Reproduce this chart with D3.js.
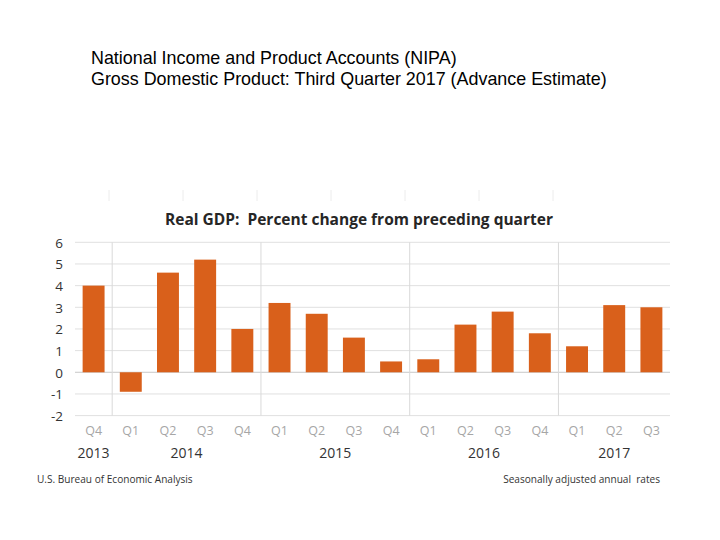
<!DOCTYPE html>
<html><head><meta charset="utf-8">
<script src="https://cdn.jsdelivr.net/npm/d3@7"></script>
<style>body{margin:0;background:#fff}svg{display:block}text{white-space:pre}</style>
</head><body>
<svg id="c" width="720" height="540"></svg>
<script>
const quarters = ["Q4","Q1","Q2","Q3","Q4","Q1","Q2","Q3","Q4","Q1","Q2","Q3","Q4","Q1","Q2","Q3"];
const years = ["2013","2014","2014","2014","2014","2015","2015","2015","2015","2016","2016","2016","2016","2017","2017","2017"];
const values = [4.0,-0.9,4.6,5.2,2.0,3.2,2.7,1.6,0.5,0.6,2.2,2.8,1.8,1.2,3.1,3.0];
const yTicks = [-2,-1,0,1,2,3,4,5,6];
const headerLines = ["National Income and Product Accounts (NIPA)","Gross Domestic Product: Third Quarter 2017 (Advance Estimate)"];
const chartTitle = "Real GDP:  Percent change from preceding quarter";
const sourceNote = "U.S. Bureau of Economic Analysis";
const rateNote = "Seasonally adjusted annual  rates";

const svg = d3.select("#c");
const pL = 75, pR = 670, pT = 242.3, pB = 415.6;
const idx = d3.range(values.length);
const x = d3.scaleBand().domain(idx).range([pL, pR]).paddingInner(0.41).paddingOuter(0.205);
const xs = d3.scaleBand().domain(idx).range([pL, pR]);
const y = d3.scaleLinear().domain([-2, 6]).range([pB, pT]);

function fitWidth(sel, w){
  const n = sel.node(); const fs = parseFloat(sel.attr("font-size"));
  const cur = n.getComputedTextLength();
  if (cur > 0) sel.attr("font-size", fs * w / cur);
}

// header
svg.selectAll("text.hdr").data(headerLines).join("text").attr("class","hdr")
  .attr("x", 91).attr("y", (d,i)=>63.5 + i*21.5)
  .attr("font-family","Liberation Sans, Arial, sans-serif").attr("font-size",17.9).attr("fill","#000")
  .text(d=>d);

// faint top ticks
const faint = svg.append("g");
d3.range(7).forEach(i=>{
  const xx = 109 + i*74;
  faint.append("line").attr("x1",xx).attr("x2",xx).attr("y1",190).attr("y2",201).attr("stroke","#ececec").attr("stroke-width",1);
});

// title
const t = svg.append("text").attr("x", 359).attr("y", 225).attr("text-anchor","middle")
  .attr("font-family","Open Sans, sans-serif").attr("font-weight","bold").attr("font-size",16.6).attr("fill","#262626")
  .text(chartTitle);
fitWidth(t, 388);

// gridlines
svg.append("g").selectAll("line").data(yTicks).join("line")
  .attr("x1",pL).attr("x2",pR).attr("y1",d=>y(d)).attr("y2",d=>y(d))
  .attr("stroke",d=>d===0?"#c8c8c8":"#e0e0e0").attr("stroke-width",1);

// year separators
const sepIdx = idx.filter(i=>i>0 && years[i]!==years[i-1]);
svg.append("g").selectAll("line").data(sepIdx).join("line")
  .attr("x1",d=>xs(d)).attr("x2",d=>xs(d)).attr("y1",pT).attr("y2",pB)
  .attr("stroke","#d9d9d9").attr("stroke-width",1);

// bars
svg.append("g").selectAll("rect").data(values).join("rect")
  .attr("x",(d,i)=>x(i)).attr("width",x.bandwidth())
  .attr("y",d=>y(Math.max(0,d))).attr("height",d=>Math.abs(y(d)-y(0)))
  .attr("fill","#d9601b");

// y axis labels
const yAxis = d3.axisLeft(y).tickValues(yTicks).tickSize(0).tickPadding(0).tickFormat(d=>String(d));
const ya = svg.append("g").attr("transform","translate(63,0)").call(yAxis);
ya.select(".domain").remove();
ya.selectAll("text").attr("font-family","Open Sans, sans-serif").attr("font-size",13.5).attr("fill","#333").attr("dy","0.35em");

// quarter labels
const xAxis = d3.axisBottom(xs).tickSize(0).tickPadding(0).tickFormat(i=>quarters[i]);
const xa = svg.append("g").attr("transform","translate(0,426)").call(xAxis);
xa.select(".domain").remove();
xa.selectAll("text").attr("font-family","Open Sans, sans-serif").attr("font-size",12.5).attr("fill","#a6a6a6").attr("dy","0.71em");

// year labels
const groups = d3.groups(idx, i=>years[i]);
svg.append("g").selectAll("text").data(groups).join("text")
  .attr("x",g=>{const a=g[1][0], b=g[1][g[1].length-1]; return (xs(a)+xs(b)+xs.bandwidth())/2;})
  .attr("y",458).attr("text-anchor","middle")
  .attr("font-family","Open Sans, sans-serif").attr("font-size",14).attr("fill","#333")
  .text(g=>g[0]);

// footer
const f1 = svg.append("text").attr("x",37).attr("y",483).attr("font-family","Open Sans, sans-serif").attr("font-size",10.5).attr("fill","#333").text(sourceNote);
fitWidth(f1, 156);
const f2 = svg.append("text").attr("x",660).attr("y",483).attr("text-anchor","end").attr("font-family","Open Sans, sans-serif").attr("font-size",10.5).attr("fill","#333").text(rateNote);
fitWidth(f2, 157);
</script>
</body></html>
